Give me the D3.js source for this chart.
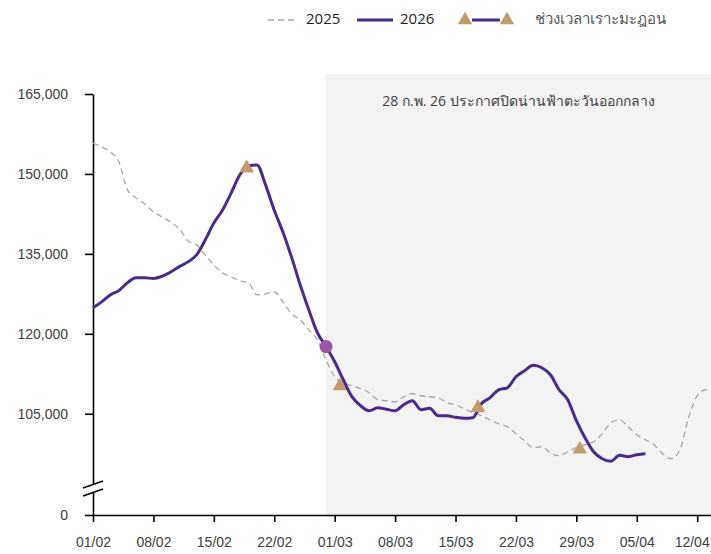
<!DOCTYPE html>
<html>
<head>
<meta charset="utf-8">
<script src="https://cdn.jsdelivr.net/npm/d3@7"></script>
<style>
  body { margin: 0; background: #fff; }
  svg { display: block; font-family: "Open Sans", "Noto Sans", "DejaVu Sans", sans-serif; }
  .axis text { fill: #404040; font-size: 14px; }
  .axis path, .axis line { stroke: #000; stroke-width: 1.6; }
</style>
</head>
<body>
<svg width="711" height="554"></svg>
<script>
// วันนับจาก 01/02
var tickDays = [0, 7, 14, 21, 28, 35, 42, 49, 56, 63, 70];
var tickLabels = ["01/02", "08/02", "15/02", "22/02", "01/03", "08/03", "15/03", "22/03", "29/03", "05/04", "12/04"];
var yTicks = [105000, 120000, 135000, 150000, 165000];

// ปี 2025 (รายวัน เริ่ม 01/02)
var values2025 = [155810, 155060, 154125, 152250, 147000, 145500, 144375, 142875, 141940, 141000,
  139690, 137440, 136690, 134810, 132940, 131440, 130690, 129940, 129560, 127310,
  127500, 127875, 126000, 123750, 122625, 120750, 118875, 115125, 111940, 110810,
  110250, 109690, 108940, 107625, 107440, 107250, 108190, 108750, 108375, 108190,
  108000, 107060, 106690, 105940, 105190, 104625, 103875, 103125, 102560, 101250,
  99940, 98625, 98810, 97690, 97125, 97875, 98625, 99190, 99750, 101250,
  103310, 103875, 102560, 101060, 100125, 99190, 97500, 96560, 98250, 104250,
  108375, 109500, 109000];

// ปี 2026
var values2026 = [124875, 126000, 127300, 128100, 129600, 130500, 130500, 130400, 130800, 131600,
  132600, 133500, 134800, 137600, 140800, 143200, 146400, 149800, 151500, 151700,
  147900, 143200, 139100, 134400, 129200, 124500, 120200, 117600, 114750, 111375,
  108200, 106500, 105560, 106125, 105840, 105560, 106690, 107440, 105750, 106030,
  104625, 104625, 104340, 104150, 104250, 106875, 108000, 109500, 109875, 111940,
  113060, 114090, 113625, 112310, 109500, 107625, 103690, 100500, 97875, 96560,
  96090, 97220, 96940, 97310, 97500];

// ช่วงเวลาเราะมะฎอน
var ramadanDays = [17.8, 28.6, 44.6, 56.4];
var ramadanValues = [151300, 110400, 106300, 98500];

var announceDay = 27;
var lastDay = 71.6;
var yBottom = 86000;

var svg = d3.select("svg");
var plotLeft = 93, plotRight = 711, plotTop = 94, plotBottom = 515;

var x = d3.scaleLinear().domain([0, lastDay]).range([plotLeft, plotRight]);
var y = d3.scaleLinear().domain([yBottom, 165000]).range([plotBottom, plotTop]);

// พื้นที่สีเทา
svg.append("rect")
  .attr("x", x(announceDay)).attr("y", 74)
  .attr("width", plotRight - x(announceDay)).attr("height", plotBottom - 74)
  .attr("fill", "#f3f3f3");

svg.append("text")
  .attr("x", (x(announceDay) + plotRight) / 2).attr("y", 102)
  .attr("text-anchor", "middle").attr("dominant-baseline", "middle")
  .attr("fill", "#404040").style("font-size", "14px")
  .text("28 ก.พ. 26 ประกาศปิดน่านฟ้าตะวันออกกลาง");

// แกน
var yAxis = d3.axisLeft(y)
  .tickValues([yBottom].concat(yTicks))
  .tickFormat(d => d === yBottom ? "0" : d3.format(",")(d))
  .tickSize(8).tickSizeOuter(0).tickPadding(17);
svg.append("g").attr("class", "axis").attr("transform", `translate(${plotLeft},0)`).call(yAxis);

var xAxis = d3.axisBottom(x)
  .tickValues(tickDays)
  .tickFormat((d, i) => tickLabels[i])
  .tickSize(7).tickSizeOuter(0).tickPadding(15);
var gx = svg.append("g").attr("class", "axis").attr("transform", `translate(0,${plotBottom})`).call(xAxis);
// ป้ายสุดท้ายชิดขอบขวา
gx.selectAll(".tick text").filter(d => d === tickDays[tickDays.length - 1])
  .attr("text-anchor", "end").attr("x", 12);

// เครื่องหมายตัดแกน
var brk = svg.append("g");
brk.append("polygon")
  .attr("points", [[83, 488], [103, 481], [103, 489], [83, 496]].join(" "))
  .attr("fill", "#fff");
brk.selectAll("line").data([0, 8]).enter().append("line")
  .attr("x1", 83).attr("y1", d => 488 + d)
  .attr("x2", 103).attr("y2", d => 481 + d)
  .attr("stroke", "#000").attr("stroke-width", 1.6);

var line = d3.line()
  .x((d, i) => x(i))
  .y(d => y(d))
  .curve(d3.curveMonotoneX);

svg.append("path")
  .datum(values2025)
  .attr("d", line)
  .attr("fill", "none")
  .attr("stroke", "#a6a6a6")
  .attr("stroke-width", 1.3)
  .attr("stroke-dasharray", "6,4");

var tri = d3.symbol().type(d3.symbolTriangle).size(90);

// สามเหลี่ยมที่อยู่ใต้เส้นปี 2026
svg.selectAll(".ram").data(ramadanDays).enter().append("path")
  .attr("class", "ram")
  .attr("d", tri)
  .attr("transform", (d, i) => `translate(${x(d)},${y(ramadanValues[i]) + 1})`)
  .attr("fill", "#c49a6c");

svg.append("path")
  .datum(values2026)
  .attr("d", line)
  .attr("fill", "none")
  .attr("stroke", "#4b2a8a")
  .attr("stroke-width", 3);

// สามเหลี่ยมบนเส้นปี 2026 (ต้น / ปลาย)
svg.selectAll(".ramTop").data([0, 2]).enter().append("path")
  .attr("class", "ramTop")
  .attr("d", tri)
  .attr("transform", d => `translate(${x(ramadanDays[d])},${y(ramadanValues[d]) + 1})`)
  .attr("fill", "#c49a6c");

svg.append("circle")
  .attr("cx", x(announceDay)).attr("cy", y(values2026[announceDay]))
  .attr("r", 6.5).attr("fill", "#9e55a6");

// legend
var lg = svg.append("g").style("font-size", "15px");
lg.append("line").attr("x1", 268).attr("x2", 296).attr("y1", 20).attr("y2", 20)
  .attr("stroke", "#a6a6a6").attr("stroke-width", 1.3).attr("stroke-dasharray", "6,4");
lg.append("text").attr("x", 306).attr("y", 20).attr("dominant-baseline", "middle")
  .attr("fill", "#222").text("2025");
lg.append("line").attr("x1", 357).attr("x2", 393).attr("y1", 20).attr("y2", 20)
  .attr("stroke", "#4b2a8a").attr("stroke-width", 3);
lg.append("text").attr("x", 400).attr("y", 20).attr("dominant-baseline", "middle")
  .attr("fill", "#222").text("2026");
lg.append("line").attr("x1", 472).attr("x2", 500).attr("y1", 20).attr("y2", 20)
  .attr("stroke", "#4b2a8a").attr("stroke-width", 3);
lg.selectAll(".lt").data([465, 507]).enter().append("path")
  .attr("d", tri).attr("transform", d => `translate(${d},20)`).attr("fill", "#c49a6c");
lg.append("text").attr("x", 535).attr("y", 20).attr("dominant-baseline", "middle")
  .attr("fill", "#555").text("ช่วงเวลาเราะมะฎอน");
</script>
</body>
</html>
